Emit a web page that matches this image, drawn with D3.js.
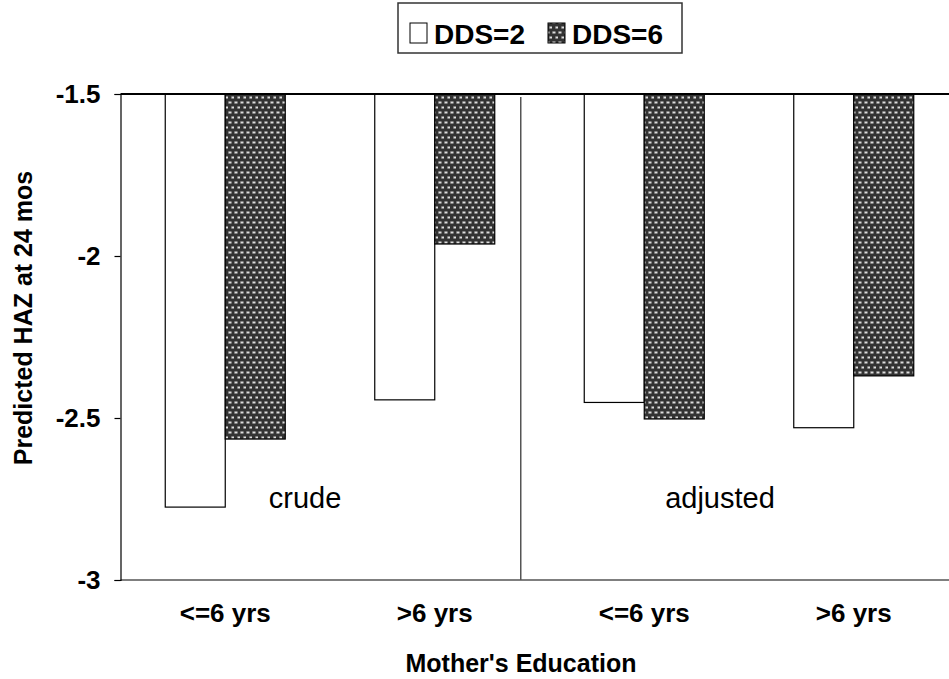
<!DOCTYPE html>
<html>
<head>
<meta charset="utf-8">
<script src="https://cdn.jsdelivr.net/npm/d3@7"></script>
<style>
  html, body { margin: 0; padding: 0; background: #fff; }
  svg { display: block; font-family: "Liberation Sans", Arial, sans-serif; }
</style>
</head>
<body>
<svg id="chart" width="949" height="679"></svg>
<script>
const categories = ["<=6 yrs", ">6 yrs", "<=6 yrs ", ">6 yrs "];
const categoryLabels = ["<=6 yrs", ">6 yrs", "<=6 yrs", ">6 yrs"];
const seriesNames = ["DDS=2", "DDS=6"];
const dds2 = [-2.775, -2.444, -2.452, -2.530];
const dds6 = [-2.565, -1.963, -2.503, -2.370];
const yTicks = [-1.5, -2, -2.5, -3];
const yTickLabels = ["-1.5", "-2", "-2.5", "-3"];
const groupLabels = ["crude", "adjusted"];

const svg = d3.select("#chart");
const W = 949, H = 679;
const pLeft = 120.5, pRight = 958.5, pTop = 94, pBottom = 580;

const defs = svg.append("defs");
const pat = defs.append("pattern").attr("id", "dots").attr("patternUnits", "userSpaceOnUse")
  .attr("width", 6).attr("height", 10);
pat.append("rect").attr("width", 6).attr("height", 10).attr("fill", "#333");
pat.append("rect").attr("x", 0.5).attr("y", 1.5).attr("width", 3).attr("height", 2).attr("fill", "#ddd");
pat.append("rect").attr("x", 3.5).attr("y", 6.5).attr("width", 3).attr("height", 2).attr("fill", "#ddd");
pat.append("rect").attr("x", 0).attr("y", 1.5).attr("width", 0.5).attr("height", 2).attr("fill", "#888");
pat.append("rect").attr("x", 3).attr("y", 6.5).attr("width", 0.5).attr("height", 2).attr("fill", "#888");

const x0 = d3.scaleBand().domain(categories).range([pLeft, pRight])
  .paddingInner(0.4272).paddingOuter(0.2136);
const x1 = d3.scaleBand().domain(seriesNames).range([0, x0.bandwidth()]);
const y = d3.scaleLinear().domain([-1.5, -3]).range([pTop, pBottom]);

const data = categories.map((c, i) => ({ cat: c, vals: [dds2[i], dds6[i]] }));

// bottom line & divider
svg.append("line").attr("x1", pLeft).attr("x2", W).attr("y1", y(-3)).attr("y2", y(-3))
  .attr("stroke", "#555").attr("stroke-width", 1.5);
const divX = x0(categories[1]) + x0.bandwidth() + 26;
svg.append("line").attr("x1", divX).attr("x2", divX).attr("y1", 97).attr("y2", y(-3))
  .attr("stroke", "#555").attr("stroke-width", 1.5);

// bars
const g = svg.append("g");
data.forEach(d => {
  d.vals.forEach((v, j) => {
    g.append("rect")
      .attr("x", x0(d.cat) + x1(seriesNames[j]))
      .attr("y", y(-1.5))
      .attr("width", x1.bandwidth())
      .attr("height", y(v) - y(-1.5))
      .attr("fill", j === 0 ? "#fff" : "url(#dots)")
      .attr("stroke", "#000").attr("stroke-width", 1.2);
  });
});

// top line (category axis at -1.5)
svg.append("line").attr("x1", pLeft).attr("x2", W).attr("y1", y(-1.5)).attr("y2", y(-1.5))
  .attr("stroke", "#000").attr("stroke-width", 2);

// y axis
const yAxis = d3.axisLeft(y).tickValues(yTicks).tickSize(6)
  .tickFormat((d, i) => yTickLabels[i]);
const ya = svg.append("g").attr("transform", `translate(${pLeft},0)`).call(yAxis);
ya.select(".domain").attr("stroke", "#000").attr("stroke-width", 1.2);
ya.selectAll(".tick line").attr("stroke", "#000").attr("stroke-width", 1.2);
ya.selectAll(".tick text").attr("font-size", 26).attr("font-weight", "bold")
  .attr("fill", "#000").attr("x", -20).attr("font-family", "Liberation Sans, Arial, sans-serif");

// x tick labels
svg.append("g").selectAll("text").data(categories).join("text")
  .attr("x", d => x0(d) + x0.bandwidth() / 2)
  .attr("y", 622)
  .attr("text-anchor", "middle").attr("font-size", 26).attr("font-weight", "bold")
  .text((d, i) => categoryLabels[i]);

// axis titles
svg.append("text").attr("x", 521).attr("y", 672).attr("text-anchor", "middle")
  .attr("font-size", 25).attr("font-weight", "bold").text("Mother's Education");
svg.append("text").attr("transform", "translate(32,318) rotate(-90)").attr("text-anchor", "middle")
  .attr("font-size", 25).attr("font-weight", "bold").text("Predicted HAZ at 24 mos");

// group labels
svg.append("text").attr("x", 305).attr("y", 508).attr("text-anchor", "middle")
  .attr("font-size", 29).text(groupLabels[0]);
svg.append("text").attr("x", 720).attr("y", 508).attr("text-anchor", "middle")
  .attr("font-size", 29).text(groupLabels[1]);

// legend
const lg = svg.append("g");
lg.append("rect").attr("x", 398).attr("y", 3).attr("width", 284).attr("height", 50)
  .attr("fill", "#fff").attr("stroke", "#333").attr("stroke-width", 1.5);
const legX = [410, 548];
seriesNames.forEach((s, i) => {
  lg.append("rect").attr("x", legX[i]).attr("y", 23).attr("width", 17).attr("height", 20)
    .attr("fill", i === 0 ? "#fff" : "url(#dots)").attr("stroke", "#000").attr("stroke-width", 1);
  lg.append("text").attr("x", legX[i] + 24).attr("y", 43.5).attr("font-size", 28)
    .attr("font-weight", "bold").text(s);
});
</script>
</body>
</html>
